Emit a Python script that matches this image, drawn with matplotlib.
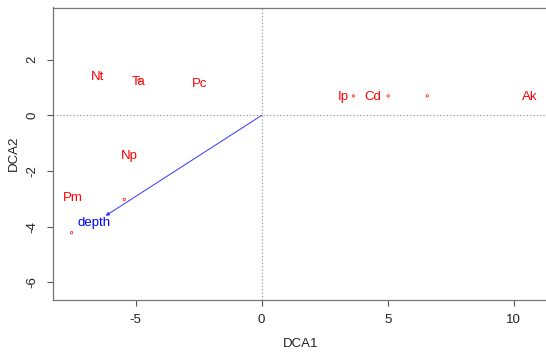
import matplotlib
matplotlib.use("Agg")
import matplotlib.pyplot as plt

plt.rcParams['font.family'] = ['Liberation Sans', 'DejaVu Sans']

# species labels (text positions)
species = ["Nt", "Ta", "Pc", "Np", "Pm", "Ip", "Cd", "Ak"]
sp_x = [-6.52, -4.87, -2.45, -5.27, -7.50, 3.24, 4.39, 10.62]
sp_y = [1.39, 1.21, 1.13, -1.46, -2.97, 0.67, 0.67, 0.65]

# site scores (small circles)
site_x = [-7.54, -5.45, -4.87, 3.64, 5.02, 6.57]
site_y = [-4.22, -3.02, 1.27, 0.70, 0.70, 0.70]

# environmental vector
env_name = "depth"
env_x = -6.19
env_y = -3.61
env_lab_x = -6.64
env_lab_y = -3.86

xticks = [-5, 0, 5, 10]
yticks = [-6, -4, -2, 0, 2]

W, H = 546, 353
fig = plt.figure(figsize=(W / 100, H / 100), dpi=100)
left, right, top, bottom = 52.7, 548, 7.5, 300
ax = fig.add_axes([left / W, 1 - bottom / H, (right - left) / W, (bottom - top) / H])

ax.set_xlim(-8.29, 11.36)
ax.set_ylim(-6.64, 3.88)

ax.axhline(0, color="#888888", linestyle=(0, (1, 2)), linewidth=0.8, zorder=0)
ax.axvline(0, color="#888888", linestyle=(0, (1, 2)), linewidth=0.8, zorder=0)

ax.scatter(site_x, site_y, s=3, facecolors="none", edgecolors="red", linewidths=0.5, zorder=4)

for name, x, y in zip(species, sp_x, sp_y):
    ax.text(x, y, name, color="red", fontsize=9.5, ha="center", va="center", zorder=3)

ax.annotate("", xy=(env_x, env_y), xytext=(0, 0),
            arrowprops=dict(arrowstyle="-|>", color="#3333ff", lw=0.7,
                            mutation_scale=5, shrinkA=0, shrinkB=0))
ax.text(env_lab_x, env_lab_y, env_name, color="blue", fontsize=9.5, ha="center", va="center")

ax.set_xticks(xticks)
ax.set_yticks(yticks)
ax.set_xticklabels([str(t) for t in xticks])
ax.set_yticklabels([str(t) for t in yticks], rotation=90, va="center")

for s in ax.spines.values():
    s.set_color("#777777")
    s.set_linewidth(0.9)
ax.tick_params(axis="both", colors="#555555", labelcolor="#222222", labelsize=9.5,
               length=4, width=0.8, pad=6)

ax.set_xlabel("DCA1", fontsize=9.5, color="#222222", labelpad=9)
ax.set_ylabel("DCA2", fontsize=9.5, color="#222222", labelpad=5)

fig.savefig("out.png", dpi=100)
